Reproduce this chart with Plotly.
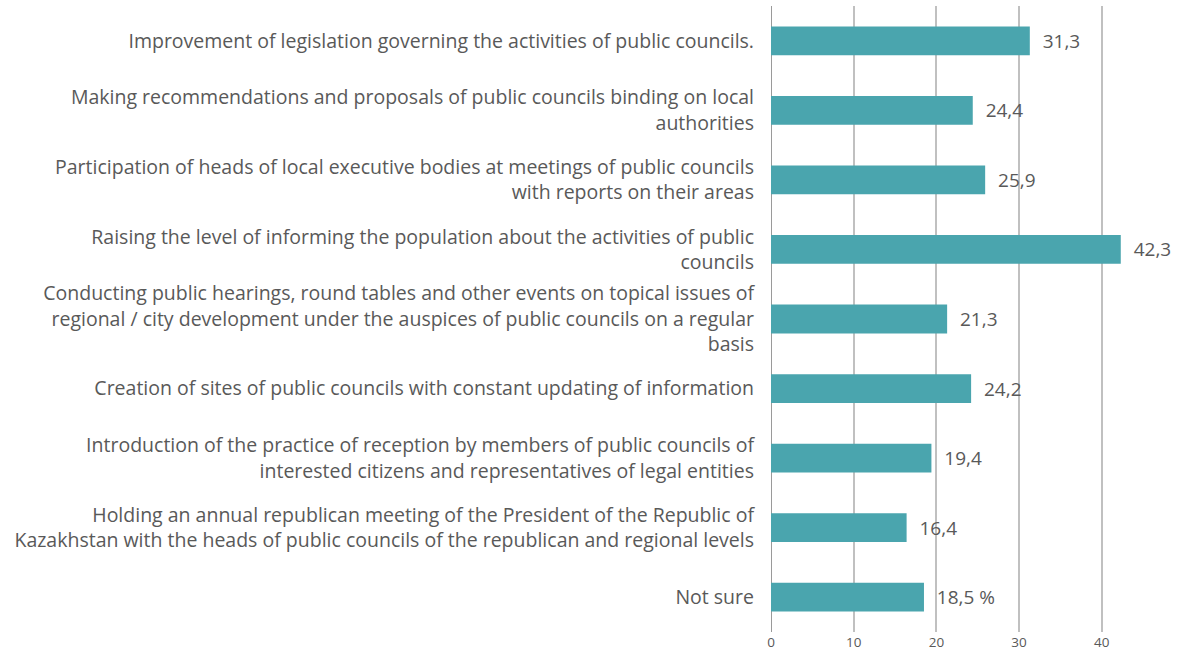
import plotly.graph_objects as go

# Survey answers (top to bottom) and their shares, %
categories = [
    "Improvement of legislation governing the activities of public councils.",
    "Making recommendations and proposals of public councils binding on local<br>authorities",
    "Participation of heads of local executive bodies at meetings of public councils<br>with reports on their areas",
    "Raising the level of informing the population about the activities of public<br>councils",
    "Conducting public hearings, round tables and other events on topical issues of<br>regional / city development under the auspices of public councils on a regular<br>basis",
    "Creation of sites of public councils with constant updating of information",
    "Introduction of the practice of reception by members of public councils of<br>interested citizens and representatives of legal entities",
    "Holding an annual republican meeting of the President of the Republic of<br>Kazakhstan with the heads of public councils of the republican and regional levels",
    "Not sure",
]
values = [31.3, 24.4, 25.9, 42.3, 21.3, 24.2, 19.4, 16.4, 18.5]
value_labels = ["31,3", "24,4", "25,9", "42,3", "21,3", "24,2", "19,4", "16,4", "18,5 %"]
x_ticks = [0, 10, 20, 30, 40]

FONT = "Open Sans"
TEXT_COLOR = "#595959"

fig = go.Figure(
    go.Bar(
        x=values,
        y=categories,
        orientation="h",
        marker=dict(color="#4AA5AE", line=dict(width=0)),
        text=value_labels,
        texttemplate="  %{text}",
        textposition="outside",
        textfont=dict(family=FONT, size=19, color=TEXT_COLOR),
        cliponaxis=False,
        hoverinfo="skip",
    )
)

fig.update_layout(
    width=1177,
    height=656,
    margin=dict(l=771, r=0, t=6, b=24),
    paper_bgcolor="white",
    plot_bgcolor="white",
    bargap=0.586,
    showlegend=False,
    font=dict(family=FONT, color=TEXT_COLOR),
)

fig.update_xaxes(
    range=[0, 49.1],
    tickvals=x_ticks,
    ticktext=[str(v) for v in x_ticks],
    tickfont=dict(family=FONT, size=13.5, color=TEXT_COLOR),
    ticklabelstandoff=0,
    showgrid=True,
    gridcolor="#C0C0C0",
    gridwidth=1.5,
    zeroline=True,
    zerolinecolor="#9A9A9A",
    zerolinewidth=1.2,
    showline=False,
    ticks="",
    automargin=False,
    fixedrange=True,
)

fig.update_yaxes(
    categoryorder="array",
    categoryarray=categories,
    autorange="reversed",
    tickfont=dict(family=FONT, size=19.5, color=TEXT_COLOR),
    ticklabelstandoff=16,
    showgrid=False,
    showline=False,
    ticks="",
    automargin=False,
    fixedrange=True,
)

fig.write_html("out.html")
